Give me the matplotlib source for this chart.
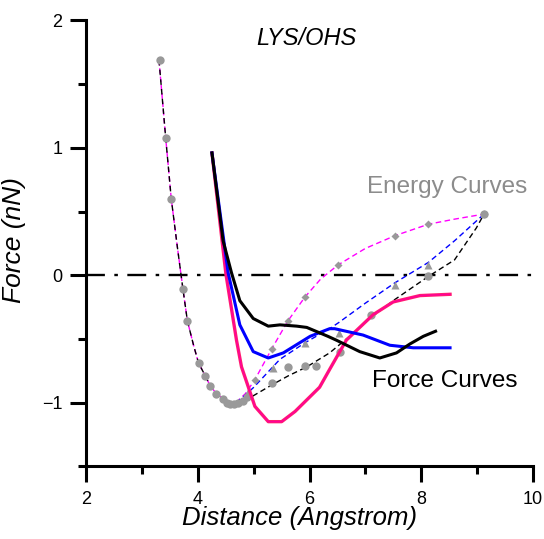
import matplotlib.pyplot as plt
from matplotlib.ticker import MultipleLocator

plt.rcParams['font.family'] = ['Liberation Sans', 'DejaVu Sans']

# shared repulsive branch of the energy curves
e_common_x = [3.30, 3.42, 3.52, 3.63, 3.73, 3.81, 3.92, 4.01, 4.13, 4.22, 4.33, 4.45, 4.57, 4.68]
e_common_y = [1.69, 1.08, 0.60, 0.22, -0.11, -0.36, -0.55, -0.69, -0.79, -0.87, -0.93, -0.97, -1.00, -1.00]

# energy curve branches (dashed)
e_mag_x = [4.68, 4.85, 5.02, 5.32, 5.61, 5.92, 6.20, 6.51, 7.00, 7.53, 8.13, 8.60, 9.13]
e_mag_y = [-1.00, -0.93, -0.82, -0.58, -0.36, -0.17, -0.03, 0.08, 0.21, 0.31, 0.40, 0.44, 0.48]
e_blue_x = [4.68, 4.80, 5.00, 5.47, 5.92, 6.36, 6.53, 7.00, 7.53, 8.13, 8.60, 9.13]
e_blue_y = [-1.00, -0.96, -0.88, -0.66, -0.53, -0.42, -0.37, -0.22, -0.06, 0.10, 0.27, 0.48]
e_black_x = [4.68, 4.90, 5.33, 5.62, 5.95, 6.36, 6.80, 7.11, 7.50, 8.13, 8.60, 8.99, 9.13]
e_black_y = [-1.00, -0.97, -0.86, -0.79, -0.72, -0.61, -0.45, -0.33, -0.20, -0.01, 0.12, 0.37, 0.48]

# grey data markers
pt_circ_x = [3.31, 3.42, 3.52, 3.73, 3.81, 4.01, 4.13, 4.22, 4.33, 4.45, 4.52, 4.58, 4.65, 4.72, 4.80, 4.88,
             5.33, 5.62, 5.92, 6.11, 6.54, 7.11, 8.13, 9.13]
pt_circ_y = [1.69, 1.08, 0.60, -0.11, -0.36, -0.69, -0.79, -0.87, -0.93, -0.97, -1.00, -1.01, -1.01, -1.00,
             -0.99, -0.96, -0.85, -0.72, -0.71, -0.71, -0.60, -0.31, -0.01, 0.48]
pt_dia_x = [5.02, 5.32, 5.61, 5.92, 6.51, 7.53, 8.13, 9.13]
pt_dia_y = [-0.82, -0.58, -0.36, -0.17, 0.08, 0.31, 0.40, 0.48]
pt_tri_x = [4.90, 5.35, 5.92, 6.53, 7.53, 8.13]
pt_tri_y = [-0.92, -0.73, -0.53, -0.45, -0.08, 0.08]

# force curves (solid)
f_black_x = [4.25, 4.45, 4.60, 4.75, 4.99, 5.26, 5.47, 5.77, 5.95, 6.33, 6.48, 6.90, 7.26, 7.56, 7.80, 8.04, 8.26]
f_black_y = [0.96, 0.27, 0.02, -0.20, -0.34, -0.40, -0.39, -0.40, -0.41, -0.48, -0.51, -0.60, -0.65, -0.61, -0.54, -0.48, -0.44]
f_blue_x = [4.25, 4.54, 4.75, 4.99, 5.26, 5.53, 6.01, 6.36, 6.45, 6.96, 7.44, 7.86, 8.52]
f_blue_y = [0.96, 0.02, -0.39, -0.60, -0.65, -0.61, -0.48, -0.42, -0.42, -0.47, -0.55, -0.57, -0.57]
f_pink_x = [4.25, 4.50, 4.69, 4.78, 5.02, 5.26, 5.50, 5.74, 6.18, 6.36, 6.66, 7.14, 7.50, 7.98, 8.52]
f_pink_y = [0.96, 0.01, -0.51, -0.72, -1.03, -1.15, -1.15, -1.07, -0.88, -0.74, -0.51, -0.31, -0.21, -0.16, -0.15]

fig = plt.figure(figsize=(5.44, 5.39), dpi=100)
ax = fig.add_axes([0.159, 0.135, 0.820, 0.827])

ax.axhline(0, color='black', lw=1.7, dashes=(8, 4, 1.5, 4))

ax.plot(e_common_x, e_common_y, color='#ff00ff', lw=1.0, dashes=(4, 2))
ax.plot(e_common_x, e_common_y, color='black', lw=1.0, dashes=(4, 3))
ax.plot(e_mag_x, e_mag_y, color='#ff00ff', lw=1.0, dashes=(4, 2.5))
ax.plot(e_blue_x, e_blue_y, color='#0000ff', lw=1.0, dashes=(4, 2.5))
ax.plot(e_black_x, e_black_y, color='black', lw=1.0, dashes=(4, 2.5))

ax.plot(pt_circ_x, pt_circ_y, 'o', color='#999999', ms=6, mec='none')
ax.plot(pt_dia_x, pt_dia_y, 'D', color='#999999', ms=4.5, mec='none')
ax.plot(pt_tri_x, pt_tri_y, '^', color='#999999', ms=5.5, mec='none')

ax.plot(f_pink_x, f_pink_y, color='#ff1f6f', lw=2.4)
ax.plot(f_pink_x, f_pink_y, color='#ff0099', lw=1.0)
ax.plot(f_blue_x, f_blue_y, color='#0000ff', lw=2.2)
ax.plot(f_black_x, f_black_y, color='black', lw=2.2)

ax.text(5.95, 1.86, 'LYS/OHS', style='italic', fontsize=17, ha='center', va='center')
ax.text(8.46, 0.69, 'Energy Curves', color='#8c8c8c', fontsize=17.5, ha='center', va='center')
ax.text(8.43, -0.83, 'Force Curves', color='black', fontsize=17.5, ha='center', va='center')

ax.set_xlim(2, 10)
ax.set_ylim(-1.5, 2)
ax.xaxis.set_major_locator(MultipleLocator(2))
ax.xaxis.set_minor_locator(MultipleLocator(1))
ax.yaxis.set_major_locator(MultipleLocator(1))
ax.yaxis.set_minor_locator(MultipleLocator(0.5))
ax.spines['top'].set_visible(False)
ax.spines['right'].set_visible(False)
for s in ('left', 'bottom'):
    ax.spines[s].set_linewidth(2.2)
ax.tick_params(which='both', direction='out', width=2.2, labelsize=13)
ax.tick_params(which='major', length=11.5, pad=6)
ax.tick_params(which='minor', length=6)
ax.set_xlabel('Distance (Angstrom)', style='italic', fontsize=18.5)
ax.set_ylabel('Force (nN)', style='italic', fontsize=19)
ax.xaxis.set_label_coords(0.478, -0.09)
ax.yaxis.set_label_coords(-0.135, 0.507)

fig.savefig('out.png', dpi=100)
